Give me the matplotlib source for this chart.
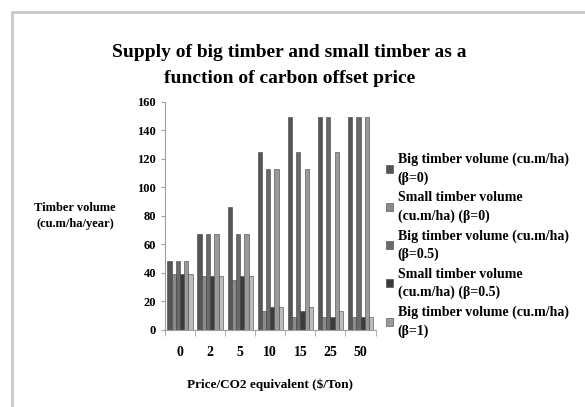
import matplotlib.pyplot as plt
import numpy as np
from matplotlib.patches import Rectangle

plt.rcParams['font.family'] = ['Liberation Serif', 'DejaVu Serif']
plt.rcParams['font.weight'] = 'bold'

prices = ['0', '2', '5', '10', '15', '25', '50']
big_b0 = [48, 67, 86, 125, 149, 149, 149]
small_b0 = [39, 38, 35, 13, 9, 9, 9]
big_b05 = [48, 67, 67, 113, 125, 149, 149]
small_b05 = [39, 38, 38, 16, 13, 9, 9]
big_b1 = [48, 67, 67, 113, 113, 125, 149]
small_b1 = [39, 38, 38, 16, 16, 13, 9]

names = ['Big timber volume (cu.m/ha)\n(\u03b2=0)',
         'Small timber volume\n(cu.m/ha) (\u03b2=0)',
         'Big timber volume (cu.m/ha)\n(\u03b2=0.5)',
         'Small timber volume\n(cu.m/ha) (\u03b2=0.5)',
         'Big timber volume (cu.m/ha)\n(\u03b2=1)',
         'Small timber volume\n(cu.m/ha) (\u03b2=1)']
series = [big_b0, small_b0, big_b05, small_b05, big_b1, small_b1]
colors = ['#555555', '#8a8a8a', '#6a6a6a', '#3c3c3c', '#9a9a9a', '#bdbdbd']

fig = plt.figure(figsize=(5.85, 4.07), dpi=100)
fig.patches.append(Rectangle((0.02, -0.1), 1.1, 1.07, transform=fig.transFigure,
                             fill=False, edgecolor='#c8c8c8', lw=2))
ax = fig.add_axes([0.282, 0.19, 0.36, 0.56])

x = np.arange(len(prices))
w = 0.14
handles = []
for i, (vals, c) in enumerate(zip(series, colors)):
    b = ax.bar(x + (i - 2.5) * w, vals, w, color=c, edgecolor='#404040', linewidth=0.4)
    handles.append(b)

ax.set_ylim(0, 160)
ax.set_yticks(range(0, 161, 20))
ax.set_xlim(-0.5, len(prices) - 0.5)
ax.set_xticks(x)
ax.set_xticklabels(prices, fontsize=10)
ax.set_xticks(np.arange(-0.5, len(prices), 1), minor=True)
ax.tick_params(axis='x', which='major', length=0, pad=12)
ax.tick_params(axis='x', which='minor', length=4, color='#a0a0a0')
ax.tick_params(axis='y', labelsize=9, length=3, color='#a0a0a0')
for s in ['top', 'right']:
    ax.spines[s].set_visible(False)
ax.spines['left'].set_color('#a0a0a0')
ax.spines['bottom'].set_color('#a0a0a0')

ax.set_xlabel('Price/CO2 equivalent ($/Ton)', fontsize=9.5, fontweight='bold', labelpad=14)
fig.text(0.128, 0.47, 'Timber volume\n(cu.m/ha/year)', fontsize=9, ha='center', va='center',
         linespacing=1.4)
fig.text(0.495, 0.838, 'Supply of big timber and small timber as a\nfunction of carbon offset price',
         fontsize=14, ha='center', va='center', linespacing=1.7)

leg = ax.legend(handles[:5], names[:5], loc='upper left', bbox_to_anchor=(1.025, 0.80),
                frameon=False, fontsize=10, handlelength=0.5, handleheight=0.5,
                handletextpad=0.3, labelspacing=0.45, borderaxespad=0)
for t in leg.get_texts():
    t.set_linespacing(1.5)

fig.savefig('out.png', dpi=100)
